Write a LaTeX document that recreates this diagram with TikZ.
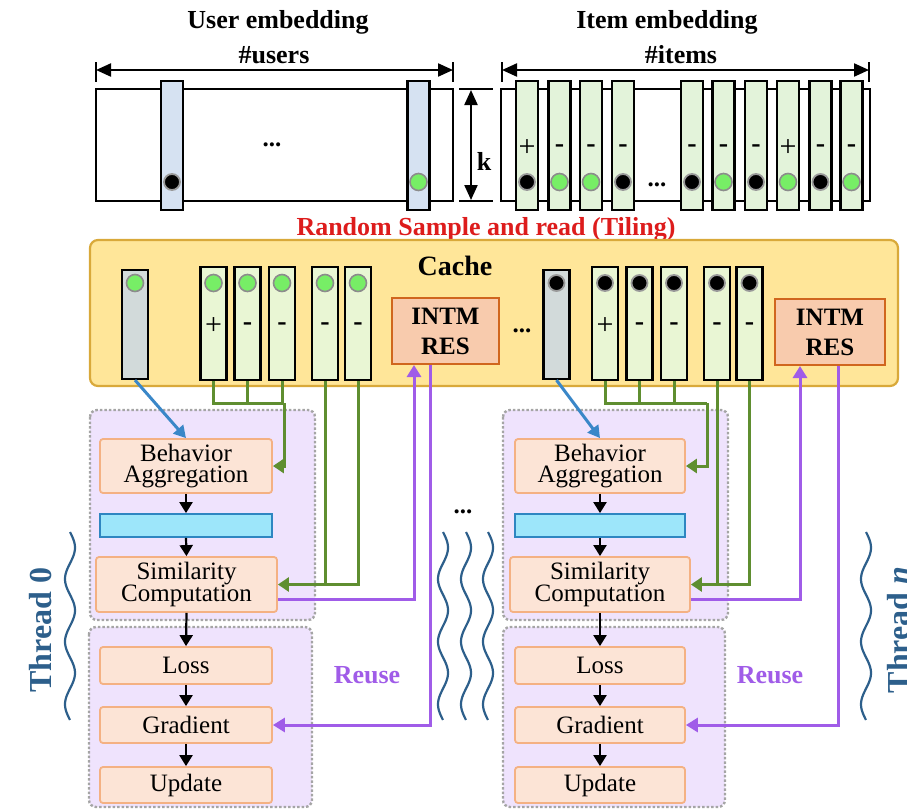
\documentclass[tikz,border=0pt]{standalone}
\usepackage{fontspec}
\setmainfont{Liberation Serif}
\usetikzlibrary{arrows.meta,calc}
\definecolor{userB}{HTML}{D6E2F2}
\definecolor{itemG}{HTML}{E3F3DA}
\definecolor{cacheG}{HTML}{E9F6D4}
\definecolor{grayC}{HTML}{D2DADA}
\definecolor{dotG}{HTML}{77EE66}
\definecolor{cacheF}{HTML}{FFE699}
\definecolor{cacheD}{HTML}{D9A93A}
\definecolor{intmF}{HTML}{F8CBAD}
\definecolor{intmD}{HTML}{D0661E}
\definecolor{boxF}{HTML}{FCE4D6}
\definecolor{boxD}{HTML}{F4B183}
\definecolor{grpF}{HTML}{EFE3FD}
\definecolor{grpD}{HTML}{A5A5A5}
\definecolor{barF}{HTML}{9DE6FA}
\definecolor{barD}{HTML}{2E86C1}
\definecolor{lineG}{HTML}{5F8E30}
\definecolor{lineP}{HTML}{A05CE8}
\definecolor{lineB}{HTML}{3A87C8}
\definecolor{redT}{HTML}{DD1C1C}
\definecolor{thrB}{HTML}{2D5F8B}
\begin{document}
\begin{tikzpicture}[x=1pt,y=-1pt,
  ttl/.style={font=\fontsize{26}{28}\selectfont\bfseries, inner sep=0},
  box/.style={draw=boxD, fill=boxF, line width=1.8pt, rounded corners=3pt, align=center,
    font=\fontsize{25}{21}\selectfont, inner sep=0, minimum width=172pt},
  intm/.style={draw=intmD, fill=intmF, line width=2pt, align=center,
    font=\fontsize{25}{30}\selectfont\bfseries, inner sep=0, minimum height=66pt},
  bar/.style={draw=barD, fill=barF, line width=1.8pt, inner sep=0, minimum width=172pt, minimum height=23pt},
  col/.style={draw=black, line width=2.2pt, inner sep=0, minimum width=22pt, minimum height=129pt},
  ucol/.style={col, fill=userB},
  icol/.style={col, fill=itemG},
  ccol/.style={draw=black, line width=2.2pt, inner sep=0, minimum width=26pt, minimum height=113pt, fill=cacheG},
  gcol/.style={draw=black, line width=2.2pt, inner sep=0, minimum width=26pt, minimum height=109pt, fill=grayC},
  bdot/.style={circle, fill=black, draw=black!40, line width=1.8pt, minimum size=16pt, inner sep=0},
  gdot/.style={circle, fill=dotG, draw=black!45, line width=1.6pt, minimum size=17pt, inner sep=0},
  plus/.style={inner sep=0, font=\fontsize{30}{30}\selectfont},
  minus/.style={inner sep=0, font=\fontsize{28}{28}\selectfont\bfseries},
  grp/.style={draw=grpD, fill=grpF, line width=2.4pt, dash pattern=on 2.5pt off 2pt, rounded corners=7pt},
  arr/.style={-{Triangle[length=11pt,width=13pt]}, line width=2.2pt, draw=black},
  dim/.style={{Triangle[length=15pt,width=13pt]}-{Triangle[length=15pt,width=13pt]}, line width=2.2pt},
  gline/.style={draw=lineG, line width=3pt},
  garr/.style={gline, -{Triangle[length=11pt,width=14pt]}},
  parr/.style={draw=lineP, line width=3pt, -{Triangle[length=12pt,width=14pt]}},
  barr/.style={draw=lineB, line width=3pt, -{Triangle[length=12pt,width=13pt]}},
  wave/.style={draw=thrB, line width=2.2pt},
  dots/.style={inner sep=0, font=\fontsize{25}{25}\selectfont\bfseries},
  reuse/.style={inner sep=0, font=\fontsize{26}{28}\selectfont\bfseries, text=lineP},
  thread/.style={inner sep=0, font=\fontsize{32}{32}\selectfont\bfseries, text=thrB, rotate=90}
]
\useasboundingbox (0,0) rectangle (907,809);

% ---------- Top: embeddings ----------
\node[ttl, anchor=base] (ut) at (278,28) {User embedding};
\node[ttl, anchor=base] (it) at (667,28) {Item embedding};
\node[ttl, anchor=base] (un) at (274,63) {\#users};
\node[ttl, anchor=base] (in) at (681,63) {\#items};

\coordinate (ua) at (96,70); \coordinate (ub) at (453,70);
\draw[dim] (ua) -- (ub);
\draw[line width=2.2pt] (96,62) -- (96,82) (453,62) -- (453,82);
\coordinate (ia) at (502,70); \coordinate (ib) at (869,70);
\draw[dim] (ia) -- (ib);
\draw[line width=2.2pt] (502,62) -- (502,82) (869,62) -- (869,82);

\draw[line width=2.6pt] (96,89) rectangle (453,201);
\draw[line width=2.6pt] (501,89) rectangle (870,201);

% k dimension
\draw[line width=2.2pt] (459,89) -- (493,89) (459,201) -- (493,201);
\coordinate (ka) at (471,90); \coordinate (kb) at (471,200);
\draw[dim] (ka) -- (kb);
\node[ttl, anchor=base] (kl) at (484,170) {k};

% user columns
\node[ucol] (u1) at (172,145.5) {};
\node[ucol] (u2) at (418.5,145.5) {};
\node[bdot] (ud1) at (172,182) {};
\node[gdot] (ud2) at (418.5,182) {};
\node[dots] (udots) at (272,145) {...};

% item columns
\foreach \i/\x/\s/\d in {1/527/+/b, 2/559.5/-/g, 3/591/-/g, 4/623/-/b, 5/692/-/b,
                         6/723.5/-/g, 7/756/-/b, 8/788/+/g, 9/820.5/-/b, 10/851.5/-/g}{
  \node[icol] (ic\i) at (\x,145.5) {};
  \node[\d dot] (id\i) at (\x,182) {};
  \if+\s \node[plus] (is\i) at (\x,148) {+};
  \else \node[minus] (is\i) at (\x,149) {-}; \fi
}
\node[dots] (idots) at (657,185) {...};

\node[ttl, anchor=base, text=redT] (rs) at (486,235) {Random Sample and read (Tiling)};

% ---------- Cache ----------
\node[draw=cacheD, fill=cacheF, line width=2.2pt, rounded corners=8pt, inner sep=0,
      minimum width=808pt, minimum height=146pt] (cache) at (494,313) {};
\node[font=\fontsize{28}{28}\selectfont\bfseries, inner sep=0, anchor=base] (cl) at (455,275) {Cache};

\node[gcol] (g1) at (135,324.5) {};
\node[gdot] (g1d) at (135,283) {};
\node[gcol] (g2) at (556.5,324.5) {};
\node[bdot] (g2d) at (556.5,283) {};

\foreach \i/\x/\s in {1/213.5/+, 2/247.5/-, 3/282/-, 4/325/-, 5/358/-}{
  \node[ccol] (c\i) at (\x,323.5) {};
  \node[gdot] (cd\i) at (\x,283) {};
  \if+\s \node[plus] (cs\i) at (\x,326) {+};
  \else \node[minus] (cs\i) at (\x,327) {-}; \fi
}
\foreach \i/\x/\s in {1/605/+, 2/639.5/-, 3/674/-, 4/717/-, 5/749.5/-}{
  \node[ccol] (d\i) at (\x,323.5) {};
  \node[bdot] (dd\i) at (\x,283) {};
  \if+\s \node[plus] (ds\i) at (\x,326) {+};
  \else \node[minus] (ds\i) at (\x,327) {-}; \fi
}
\node[intm, minimum width=107pt] (i1) at (445.5,331) {INTM\\RES};
\node[intm, minimum width=110pt] (i2) at (830,332) {INTM\\RES};
\node[dots] (cdots) at (522,331) {...};

% ---------- Thread groups ----------
\path[grp] (90,410) rectangle (315,620);
\path[grp] (89,627) rectangle (312,807);
\path[grp] (503,410) rectangle (728,620);
\path[grp] (503,627) rectangle (725,807);

% left thread
\node[box, minimum height=54pt] (BA1) at (186,466) {Behavior\\Aggregation};
\node[bar] (bar1) at (186,525.5) {};
\node[box, minimum width=181pt, minimum height=55pt] (SC1) at (186.5,584.5) {Similarity\\Computation};
\node[box, minimum height=37pt] (L1) at (186,665.5) {Loss};
\node[box, minimum height=36pt] (Gr1) at (186,725) {Gradient};
\node[box, minimum height=36pt] (U1) at (186,785) {Update};

% right thread
\node[box, minimum width=170pt, minimum height=54pt] (BA2) at (600,466) {Behavior\\Aggregation};
\node[bar, minimum width=170pt] (bar2) at (600,525.5) {};
\node[box, minimum width=180pt, minimum height=55pt] (SC2) at (600,584.5) {Similarity\\Computation};
\node[box, minimum width=170pt, minimum height=37pt] (L2) at (600,665.5) {Loss};
\node[box, minimum width=170pt, minimum height=36pt] (Gr2) at (600,725) {Gradient};
\node[box, minimum width=170pt, minimum height=36pt] (U2) at (600,785) {Update};

\foreach \t in {1,2}{
  \draw[arr] (BA\t.south) -- (bar\t.north);
  \draw[arr] (bar\t.south) -- (SC\t.north);
  \draw[arr] (SC\t.south) -- (L\t.north);
  \draw[arr] (L\t.south) -- (Gr\t.north);
  \draw[arr] (Gr\t.south) -- (U\t.north);
}

% blue reads
\draw[barr] (g1.south) -- (BA1.north);
\draw[barr] (g2.south) -- (BA2.north);

% green connectors, left
\coordinate (jL) at (284,403);
\draw[gline] (c1.south) |- (jL);
\draw[gline] (c2.south) -- (c2.south |- jL);
\draw[gline] (c3.south) -- (c3.south |- jL);
\draw[garr] (jL) |- (BA1.east);
\draw[gline] (c4.south) -- (c4.south |- SC1.east);
\draw[garr] (c5.south) |- (SC1.east);

% green connectors, right
\coordinate (jR) at (707,403);
\draw[gline] (d1.south) |- (jR);
\draw[gline] (d2.south) -- (d2.south |- jR);
\draw[gline] (d3.south) -- (d3.south |- jR);
\draw[garr] (jR) |- (BA2.east);
\draw[gline] (d4.south) -- (d4.south |- SC2.east);
\draw[garr] (d5.south) |- (SC2.east);

% purple reuse connectors
\coordinate (i1in) at ($(i1.south)+(-31.5,0)$);
\coordinate (i1out) at ($(i1.south)+(-15.5,0)$);
\coordinate (i2in) at ($(i2.south)+(-30,0)$);
\coordinate (i2out) at ($(i2.south)+(8,0)$);
\draw[parr] ($(SC1.east)+(0,15)$) -| (i1in);
\draw[parr] (i1out) |- (Gr1.east);
\draw[parr] ($(SC2.east)+(0,15)$) -| (i2in);
\draw[parr] (i2out) |- (Gr2.east);

\node[reuse, anchor=base] (r1) at (367,683) {Reuse};
\node[reuse, anchor=base] (r2) at (770,683) {Reuse};

% ellipsis between threads and wavy lines
\node[dots] (tdots) at (463,512) {...};
\foreach \xc in {70,443,466,488,866}{
  \draw[wave] plot[domain=0:1, samples=90, smooth] ({\xc+5*sin(3*360*\x)},{532+188*\x});
}

\node[thread] (t0) at (41,630) {Thread 0};
\node[thread] (tn) at (899,630) {Thread \textit{n}};
\end{tikzpicture}
\end{document}
